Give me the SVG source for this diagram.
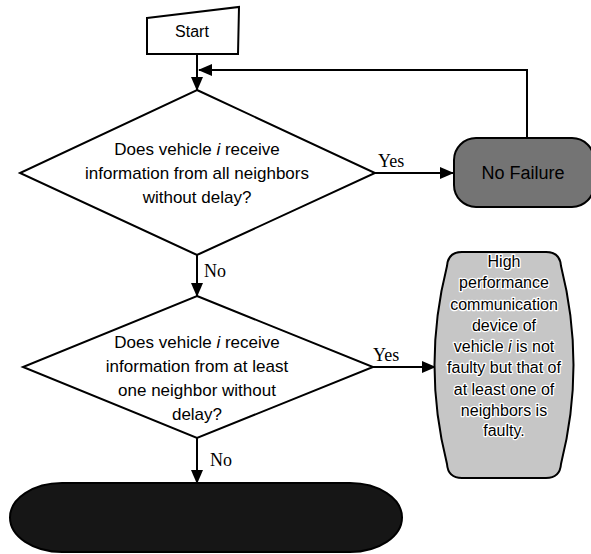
<svg xmlns="http://www.w3.org/2000/svg" width="591" height="554" viewBox="0 0 591 554">
<style>
.sh{stroke:#000;stroke-width:2;}
.q{font-family:"Liberation Sans",Arial,sans-serif;font-size:17px;fill:#000;text-anchor:middle;}
.lbl{font-family:"Liberation Serif","Times New Roman",serif;font-size:18px;fill:#000;}
.c{fill:none;stroke:#000;stroke-width:2;}
.tall{font-family:"Liberation Sans",Arial,sans-serif;font-size:16px;fill:#000;text-anchor:middle;stroke:#fff;stroke-width:2.5;paint-order:stroke;stroke-linejoin:round;}
</style>
<defs>
<marker id="arr" markerWidth="14" markerHeight="12" refX="13" refY="6" orient="auto" markerUnits="userSpaceOnUse">
<path d="M0,0 L14,6 L0,12 Z" fill="#000"/>
</marker>
</defs>
<rect width="591" height="554" fill="#fff"/>
<g id="connectors">
<path class="c" d="M197,54 V90" marker-end="url(#arr)"/>
<path class="c" d="M527,138 V70 H199" marker-end="url(#arr)"/>
<path class="c" d="M375,173 H453" marker-end="url(#arr)"/>
<path class="c" d="M197,255 V296" marker-end="url(#arr)"/>
<path class="c" d="M373,367 H435" marker-end="url(#arr)"/>
<path class="c" d="M197,438 V483" marker-end="url(#arr)"/>
<text class="lbl" x="378" y="167">Yes</text>
<text class="lbl" x="204" y="277">No</text>
<text class="lbl" x="373" y="361">Yes</text>
<text class="lbl" x="210" y="466">No</text>
</g>
<g id="start">
<path class="sh" d="M147,18 L239,7 L238,54 L147,54 Z" fill="#fff"/>
<text class="q" x="192" y="37" style="font-size:16px">Start</text>
</g>
<g id="decision1">
<path class="sh" d="M197,90 L375,173 L197,255 L20,173 Z" fill="#fff"/>
<text class="q" x="197" y="155">Does vehicle <tspan font-style="italic">i</tspan> receive</text>
<text class="q" x="197" y="179">information from all neighbors</text>
<text class="q" x="197" y="203">without delay?</text>
</g>
<g id="nofailure">
<rect class="sh" x="454" y="138" width="140" height="69" rx="22" ry="22" fill="#747474"/>
<text class="q" x="523" y="179" style="font-size:18px">No Failure</text>
</g>
<g id="decision2">
<path class="sh" d="M197,296 L373,367 L197,438 L23,367 Z" fill="#fff"/>
<text class="q" x="197" y="348">Does vehicle <tspan font-style="italic">i</tspan> receive</text>
<text class="q" x="197" y="372">information from at least</text>
<text class="q" x="197" y="396">one neighbor without</text>
<text class="q" x="197" y="420">delay?</text>
</g>
<g id="faulty-neighbor">
<path class="sh" fill="#c6c6c6" d="M462,252 H546 Q560,252 561,266 Q586,365 561,464 Q560,478 546,478 H462 Q448,478 447,464 Q422,365 447,266 Q448,252 462,252 Z"/>
<text class="tall" x="504" y="267">High</text>
<text class="tall" x="504" y="288">performance</text>
<text class="tall" x="504" y="310">communication</text>
<text class="tall" x="504" y="331">device of</text>
<text class="tall" x="504" y="352">vehicle <tspan font-style="italic">i</tspan> is not</text>
<text class="tall" x="504" y="373">faulty but that of</text>
<text class="tall" x="504" y="395">at least one of</text>
<text class="tall" x="504" y="416">neighbors is</text>
<text class="tall" x="504" y="436">faulty.</text>
</g>
<g id="faulty-self">
<rect class="sh" x="10" y="483" width="392" height="69" rx="52" ry="34.5" fill="#161616"/>
</g>
</svg>
